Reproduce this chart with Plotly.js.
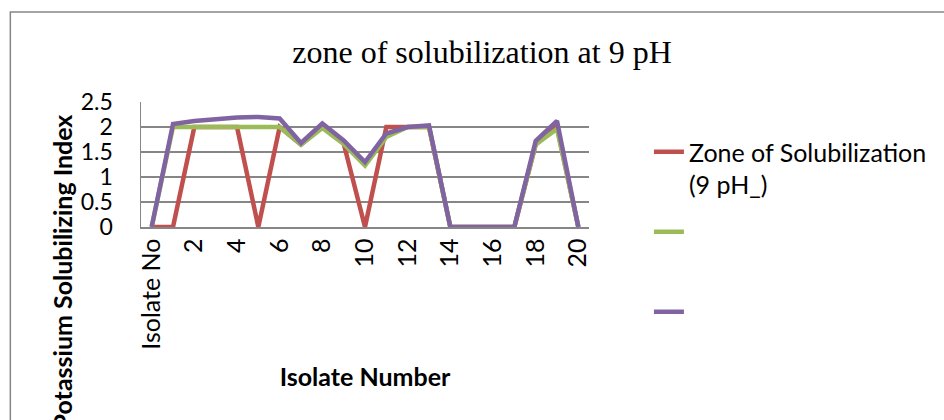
<!DOCTYPE html>
<html>
<head>
<meta charset="utf-8">
<script src="https://cdn.plot.ly/plotly-3.0.1.min.js"></script>
<style>html,body{margin:0;padding:0;background:#fff;}#chart{width:944px;height:420px;}</style>
</head>
<body>
<div id="chart"></div>
<script>
var categories = ["Isolate No","1","2","3","4","5","6","7","8","9","10","11","12","13","14","15","16","17","18","19","20"];
var tickLabels = ["Isolate No","2","4","6","8","10","12","14","16","18","20"];
var zoneSolubilization = [0, 0, 2.0, 2.0, 2.0, 0, 2.0, 1.65, 2.0, 1.67, 0, 2.0, 2.0, 2.0, 0, 0, 0, 0, 1.65, 2.0, 0];
var series2 = [0, 2.0, 2.0, 2.0, 2.0, 2.0, 2.0, 1.65, 1.98, 1.66, 1.23, 1.8, 2.0, 2.0, 0, 0, 0, 0, 1.65, 1.96, 0];
var series3 = [0, 2.06, 2.12, 2.16, 2.19, 2.2, 2.17, 1.68, 2.07, 1.73, 1.3, 1.87, 2.0, 2.03, 0, 0, 0, 0, 1.72, 2.12, 0];
var seriesNames = ["Zone of Solubilization<br>(9 pH_)", " <br> ", " <br> "];
var titleText = "zone of solubilization at 9 pH";
var xTitle = "Isolate Number";
var yTitle = "Potassium Solubilizing Index";

var colors = ["#C0504D", "#9BBB59", "#8064A2"];
var allSeries = [zoneSolubilization, series2, series3];
var traces = allSeries.map(function(v, i){
  return {
    type: "scatter", mode: "lines", x: categories, y: v,
    name: seriesNames[i], legendgroup: "g" + i,
    line: {color: colors[i], width: 4.5, shape: "linear"},
    hoverinfo: "x+y"
  };
});

var L = 141, R = 597, T = 102, B = 227, W = 944, H = 420;
function px2x(p){ return (p - L) / (R - L); }
function px2y(p){ return (B - p) / (B - T); }
var FONT = "Lato, 'Open Sans', sans-serif";

var layout = {
  width: W, height: H,
  margin: {l: L, r: W - R, t: T, b: H - B},
  paper_bgcolor: "#ffffff", plot_bgcolor: "#ffffff",
  font: {family: FONT, size: 23, color: "#000"},
  title: {text: titleText, font: {family: "'Liberation Serif', 'Times New Roman', serif", size: 32, color: "#000"},
          x: 482 / W, xanchor: "center", xref: "container", y: 1 - 52 / H, yanchor: "middle", yref: "container"},
  showlegend: true,
  legend: {x: px2x(658), xanchor: "left", y: px2y(129), yanchor: "top", valign: "top",
           font: {family: FONT, size: 25, color: "#000"}, maxheight: 1000,
           tracegroupgap: 12, bgcolor: "rgba(0,0,0,0)", traceorder: "grouped"},
  xaxis: {
    type: "category", categoryorder: "array", categoryarray: categories,
    range: [-0.5, categories.length - 0.5],
    tickmode: "array", tickvals: tickLabels, ticktext: tickLabels,
    tickangle: -90, ticks: "", showgrid: false, zeroline: false,
    showline: true, linecolor: "#868686", linewidth: 1.5,
    tickfont: {family: FONT, size: 25, color: "#000"},
    title: {text: "<b>" + xTitle + "</b>", font: {family: FONT, size: 25, color: "#000"}, standoff: 20},
    automargin: false, fixedrange: true
  },
  yaxis: {
    range: [0, 2.5], dtick: 0.5, tick0: 0,
    showgrid: true, gridcolor: "#868686", gridwidth: 1.2,
    zeroline: false, showline: true, linecolor: "#868686", linewidth: 1.5,
    ticks: "", ticklabelstandoff: 22,
    tickfont: {family: FONT, size: 23, color: "#000"},
    automargin: false, fixedrange: true
  },
  annotations: [{
    text: "<b>" + yTitle + "</b>", textangle: -90, showarrow: false,
    xref: "paper", yref: "paper", x: px2x(61), y: px2y(272), xanchor: "center", yanchor: "middle",
    font: {family: FONT, size: 25, color: "#000"}
  }],
  shapes: [{
    type: "rect", xref: "paper", yref: "paper", layer: "below",
    x0: px2x(8), y0: px2y(12), x1: px2x(1200), y1: px2y(700),
    line: {color: "#868686", width: 1.5}, fillcolor: "rgba(0,0,0,0)"
  }]
};

Plotly.newPlot("chart", traces, layout, {displayModeBar: false, staticPlot: true});
</script>
</body>
</html>
